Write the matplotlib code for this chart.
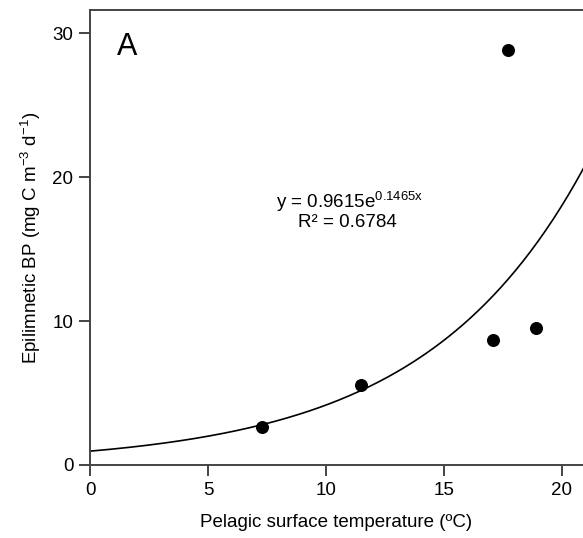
import numpy as np
import matplotlib
matplotlib.use('Agg')
import matplotlib.pyplot as plt

plt.rcParams['font.family'] = ['Liberation Sans', 'DejaVu Sans']
plt.rcParams['mathtext.fontset'] = 'custom'
plt.rcParams['mathtext.rm'] = 'Liberation Sans'

# observed points
temp = [7.3, 11.5, 17.1, 18.9, 17.7]
bp = [2.65, 5.55, 8.7, 9.5, 28.8]

# exponential fit y = a*exp(b*x)
fit_a = 0.9615
fit_b = 0.1465

fig = plt.figure(figsize=(5.83, 5.38), dpi=100)
ax = fig.add_axes([0.1544, 0.1357, 0.8456, 0.8457])

xs = np.linspace(0, 21, 200)
ax.plot(xs, fit_a * np.exp(fit_b * xs), color='black', lw=1.2, zorder=2)
ax.scatter(temp, bp, s=70, color='black', zorder=3)

ax.set_xlim(0, 20.9)
ax.set_ylim(0, 31.6)
ax.set_xticks([0, 5, 10, 15, 20])
ax.set_yticks([0, 10, 20, 30])

for side in ['left', 'bottom', 'top']:
    ax.spines[side].set_color('#444444')
    ax.spines[side].set_linewidth(1.4)
ax.spines['right'].set_visible(False)
ax.tick_params(direction='out', length=8, width=1.4, color='#444444',
               labelsize=13.5, pad=4)

ax.set_xlabel('Pelagic surface temperature (ºC)', fontsize=13.5, labelpad=11)
ax.set_ylabel(r'Epilimnetic BP (mg C m$^{\mathregular{-3}}$ d$^{\mathregular{-1}}$)',
              fontsize=13.5, labelpad=7)

ax.text(1.15, 29.0, 'A', fontsize=22, ha='left', va='center')
ax.text(0.526, 0.578, r'y = 0.9615e$^{\mathregular{0.1465x}}$', transform=ax.transAxes,
        fontsize=13.5, ha='center', va='center')
ax.text(0.522, 0.534, 'R² = 0.6784', transform=ax.transAxes,
        fontsize=13.5, ha='center', va='center')

fig.savefig('out.png', dpi=100)
